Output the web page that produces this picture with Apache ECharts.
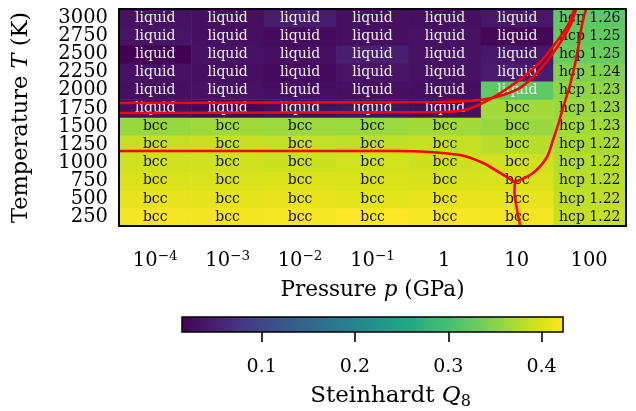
<!DOCTYPE html>
<html>
<head>
<meta charset="utf-8">
<script src="https://cdn.jsdelivr.net/npm/echarts@6/dist/echarts.min.js"></script>
<style>
  html, body { margin: 0; padding: 0; background: #ffffff; }
  #chart { width: 636px; height: 411px; }
</style>
</head>
<body>
<div id="chart"></div>
<script>
// Pressure columns (GPa) and their tick labels
const pressureCategories = ['1e-4', '1e-3', '1e-2', '1e-1', '1', '10', '100'];
const pressureTickLabels = ['10^−4', '10^−3', '10^−2', '10^−1', '1', '10', '100'];

// Temperature rows (K), bottom to top
const temperatures = [250, 500, 750, 1000, 1250, 1500, 1750, 2000, 2250, 2500, 2750, 3000];

// Steinhardt Q8 per cell: one row per temperature, one entry per pressure
const q8Rows = [
  [0.418, 0.416, 0.419, 0.423, 0.420, 0.418, 0.388],
  [0.408, 0.407, 0.410, 0.406, 0.409, 0.409, 0.384],
  [0.400, 0.399, 0.401, 0.400, 0.398, 0.399, 0.380],
  [0.393, 0.393, 0.391, 0.395, 0.392, 0.394, 0.376],
  [0.386, 0.389, 0.385, 0.383, 0.386, 0.378, 0.370],
  [0.360, 0.364, 0.362, 0.361, 0.366, 0.360, 0.366],
  [0.031, 0.022, 0.031, 0.034, 0.031, 0.366, 0.361],
  [0.031, 0.034, 0.031, 0.031, 0.031, 0.321, 0.355],
  [0.034, 0.031, 0.026, 0.036, 0.034, 0.046, 0.345],
  [0.0146, 0.034, 0.031, 0.050, 0.034, 0.040, 0.329],
  [0.036, 0.031, 0.026, 0.031, 0.034, 0.020, 0.323],
  [0.034, 0.031, 0.046, 0.031, 0.031, 0.040, 0.321]
];

// Identified phase per cell (hcp cells carry their c/a ratio)
const phaseRows = [
  ['bcc', 'bcc', 'bcc', 'bcc', 'bcc', 'bcc', 'hcp 1.22'],
  ['bcc', 'bcc', 'bcc', 'bcc', 'bcc', 'bcc', 'hcp 1.22'],
  ['bcc', 'bcc', 'bcc', 'bcc', 'bcc', 'bcc', 'hcp 1.22'],
  ['bcc', 'bcc', 'bcc', 'bcc', 'bcc', 'bcc', 'hcp 1.22'],
  ['bcc', 'bcc', 'bcc', 'bcc', 'bcc', 'bcc', 'hcp 1.22'],
  ['bcc', 'bcc', 'bcc', 'bcc', 'bcc', 'bcc', 'hcp 1.23'],
  ['liquid', 'liquid', 'liquid', 'liquid', 'liquid', 'bcc', 'hcp 1.23'],
  ['liquid', 'liquid', 'liquid', 'liquid', 'liquid', 'liquid', 'hcp 1.23'],
  ['liquid', 'liquid', 'liquid', 'liquid', 'liquid', 'liquid', 'hcp 1.24'],
  ['liquid', 'liquid', 'liquid', 'liquid', 'liquid', 'liquid', 'hcp 1.25'],
  ['liquid', 'liquid', 'liquid', 'liquid', 'liquid', 'liquid', 'hcp 1.25'],
  ['liquid', 'liquid', 'liquid', 'liquid', 'liquid', 'liquid', 'hcp 1.26']
];

// Colour bar ticks
const colorbarTicks = [0.1, 0.2, 0.3, 0.4];

// Reference phase boundaries as [log10(p / GPa), T / K]
const meltLineUpper = [[-4.5, 1825], [-2.3, 1832], [-0.07, 1839], [0.484, 1867], [0.76, 1922], [1.036, 2033], [1.243, 2213], [1.423, 2420], [1.616, 2697], [1.741, 2918], [1.81, 3125]];
const meltLineLower = [[-4.5, 1687], [-2.3, 1694], [-0.07, 1701], [0.277, 1729], [0.553, 1840], [0.829, 2005], [1.064, 2171], [1.313, 2392], [1.561, 2697], [1.713, 2931], [1.782, 3125]];
const bccHcpLine = [[1.948, 3125], [1.892, 2904], [1.823, 2489], [1.727, 2074], [1.63, 1756], [1.561, 1521], [1.492, 1314], [1.409, 1079], [1.216, 858], [0.967, 733]];
const lowTLine = [[-4.5, 1162], [-2.5, 1162], [-0.662, 1162], [0.208, 1107], [0.526, 996], [0.76, 858], [0.967, 733]];
const lowTBranch = [[0.967, 733], [0.96, 600], [0.99, 380], [1.04, 125]];

const FONT = 'DejaVu Serif';
const viridis = ['#440154', '#471365', '#482475', '#463480', '#414487', '#3b528b', '#355f8d', '#306a8e',
  '#2a788e', '#25838e', '#21918c', '#1f9e89', '#22a884', '#35b779', '#44bf70', '#5ec962', '#7ad151',
  '#9bd93c', '#bddf26', '#dfe318', '#fde725'];

const allQ8 = q8Rows.flat();
const q8Min = Math.min(...allQ8);
const q8Max = Math.max(...allQ8);

const heatData = [];
temperatures.forEach((t, yi) => {
  pressureCategories.forEach((p, xi) => {
    const phase = phaseRows[yi][xi];
    heatData.push({
      value: [xi, yi, q8Rows[yi][xi]],
      label: { color: phase === 'liquid' ? '#eeeeee' : '#111111' }
    });
  });
});

const black = '#000000';
const frameLine = { show: true, lineStyle: { color: black, width: 2 } };
const tickStyle = { color: black, width: 1.6 };

function pressureLabel(value, index) {
  const parts = pressureTickLabels[index].split('^');
  if (parts.length === 2) return '{b|' + parts[0] + '}{sup|' + parts[1] + '}';
  return '{b|' + parts[0] + '}{sup|\u200a}';
}

const boundaryLine = (data) => ({
  type: 'line',
  xAxisIndex: 2,
  yAxisIndex: 2,
  data: data,
  symbol: 'none',
  smooth: 0.3,
  clip: true,
  silent: true,
  z: 5,
  lineStyle: { color: '#ff0000', width: 2.6 }
});

const chart = echarts.init(document.getElementById('chart'), null, { renderer: 'canvas' });
chart.setOption({
  animation: false,
  backgroundColor: '#ffffff',
  textStyle: { fontFamily: FONT, color: black },
  grid: [
    { left: 119, top: 9, width: 507, height: 217 },
    { left: 119, top: 9, width: 507, height: 217 },
    { left: 182, top: 317, width: 381, height: 19 }
  ],
  visualMap: {
    type: 'continuous',
    show: false,
    seriesIndex: 0,
    dimension: 2,
    min: q8Min,
    max: q8Max,
    inRange: { color: viridis }
  },
  xAxis: [
    {
      type: 'category', gridIndex: 0, data: pressureCategories, position: 'bottom', z: 10,
      axisLine: frameLine,
      axisTick: { alignWithLabel: true, interval: 0, length: 10, lineStyle: tickStyle },
      axisLabel: {
        interval: 0, margin: 23, formatter: pressureLabel,
        rich: {
          b: { fontFamily: FONT, fontSize: 19.5, lineHeight: 22, verticalAlign: 'bottom', color: black },
          sup: { fontFamily: FONT, fontSize: 13.5, lineHeight: 16, verticalAlign: 'top', color: black }
        }
      },
      splitLine: { show: false },
      name: 'Pressure {i|p} (GPa)', nameLocation: 'middle', nameGap: 53,
      nameTextStyle: {
        fontFamily: FONT, fontSize: 21.5, color: black,
        rich: { i: { fontFamily: FONT, fontSize: 21.5, fontStyle: 'italic', color: black } }
      }
    },
    {
      type: 'category', gridIndex: 0, data: pressureCategories, position: 'top', z: 10,
      axisLine: frameLine, axisTick: { show: false }, axisLabel: { show: false }
    },
    { type: 'value', gridIndex: 1, min: -4.5, max: 2.5, show: false },
    {
      type: 'value', gridIndex: 2, min: q8Min, max: q8Max, position: 'bottom',
      axisLine: { show: false },
      axisTick: { show: true, customValues: colorbarTicks, length: 10, lineStyle: tickStyle },
      axisLabel: { customValues: colorbarTicks, margin: 26, fontFamily: FONT, fontSize: 19, color: black },
      splitLine: { show: false },
      name: '{r|Steinhardt }{i|Q}{sub|8}', nameLocation: 'middle', nameGap: 53,
      nameTextStyle: {
        fontFamily: FONT, fontSize: 23, color: black, padding: [0, 0, 0, 36],
        rich: {
          r: { fontFamily: FONT, fontSize: 23, color: black, lineHeight: 25, verticalAlign: 'top' },
          i: { fontFamily: FONT, fontSize: 23, fontStyle: 'italic', color: black, lineHeight: 25, verticalAlign: 'top' },
          sub: { fontFamily: FONT, fontSize: 16, color: black, lineHeight: 15, verticalAlign: 'bottom' }
        }
      }
    }
  ],
  yAxis: [
    {
      type: 'category', gridIndex: 0, data: temperatures.map(String), z: 10,
      axisLine: frameLine,
      axisTick: { alignWithLabel: true, interval: 0, length: 10, lineStyle: tickStyle },
      axisLabel: { interval: 0, margin: 11, fontFamily: FONT, fontSize: 19.5, color: black },
      splitLine: { show: false },
      name: 'Temperature {i|T} (K)', nameLocation: 'middle', nameGap: 86,
      nameTextStyle: {
        fontFamily: FONT, fontSize: 22.5, color: black,
        rich: { i: { fontFamily: FONT, fontSize: 22.5, fontStyle: 'italic', color: black } }
      }
    },
    {
      type: 'category', gridIndex: 0, data: temperatures.map(String), position: 'right', z: 10,
      axisLine: frameLine, axisTick: { show: false }, axisLabel: { show: false }
    },
    { type: 'value', gridIndex: 1, min: 125, max: 3125, show: false },
    { type: 'value', gridIndex: 2, min: 0, max: 1, show: false }
  ],
  series: [
    {
      type: 'heatmap',
      xAxisIndex: 0,
      yAxisIndex: 0,
      data: heatData,
      progressive: 0,
      label: {
        show: true,
        fontFamily: FONT,
        fontSize: 14,
        formatter: (p) => phaseRows[p.value[1]][p.value[0]]
      },
      emphasis: { disabled: true }
    },
    boundaryLine(meltLineUpper),
    boundaryLine(meltLineLower),
    boundaryLine(bccHcpLine),
    boundaryLine(lowTLine),
    boundaryLine(lowTBranch),
    {
      type: 'custom',
      xAxisIndex: 3,
      yAxisIndex: 3,
      silent: true,
      data: [[q8Min, 0, q8Max, 1]],
      renderItem: (params, api) => {
        const p0 = api.coord([api.value(0), api.value(1)]);
        const p1 = api.coord([api.value(2), api.value(3)]);
        return {
          type: 'rect',
          shape: { x: p0[0], y: p1[1], width: p1[0] - p0[0], height: p0[1] - p1[1] },
          style: {
            fill: new echarts.graphic.LinearGradient(0, 0, 1, 0,
              viridis.map((c, i) => ({ offset: i / (viridis.length - 1), color: c }))),
            stroke: black,
            lineWidth: 1.5
          }
        };
      }
    }
  ]
});
</script>
</body>
</html>
